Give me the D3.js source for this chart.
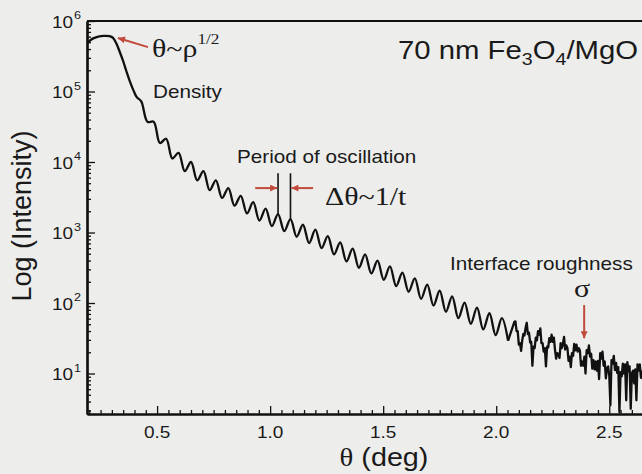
<!DOCTYPE html>
<html>
<head>
<meta charset="utf-8">
<script src="https://cdn.jsdelivr.net/npm/d3@7"></script>
<style>
  html, body { margin: 0; padding: 0; background: #ededeb; }
  svg { display: block; }
</style>
</head>
<body>
<div id="chart"></div>
<script>
// values: theta in degrees, log10 of intensity
const edgeTheta = [0.195, 0.215, 0.240, 0.265, 0.290, 0.305, 0.320, 0.335, 0.350, 0.365, 0.380, 0.395, 0.410];
const edgeLogI  = [5.70, 5.75, 5.78, 5.79, 5.785, 5.76, 5.68, 5.56, 5.43, 5.28, 5.14, 5.02, 4.92];

// fringe maxima
const peakTheta = [0.430, 0.485, 0.540, 0.595, 0.650, 0.705, 0.760, 0.815, 0.870, 0.925,
  0.980, 1.035, 1.090, 1.145, 1.200, 1.255, 1.310, 1.365, 1.420, 1.475,
  1.530, 1.585, 1.640, 1.695, 1.750, 1.805, 1.860, 1.915, 1.970, 2.025];
const peakLogI = [4.86, 4.57, 4.33, 4.13, 4.00, 3.87, 3.74, 3.63, 3.52, 3.43,
  3.34, 3.26, 3.19, 3.11, 3.04, 2.95, 2.86, 2.77, 2.69, 2.60,
  2.52, 2.43, 2.35, 2.26, 2.175, 2.095, 2.005, 1.935, 1.855, 1.785];

// fringe minima
const troughTheta = [0.4575, 0.5125, 0.5675, 0.6225, 0.6775, 0.7325, 0.7875, 0.8425, 0.8975, 0.9525,
  1.0075, 1.0625, 1.1175, 1.1725, 1.2275, 1.2825, 1.3375, 1.3925, 1.4475, 1.5025,
  1.5575, 1.6125, 1.6675, 1.7225, 1.7775, 1.8325, 1.8875, 1.9425, 1.9975, 2.0525];
const troughLogI = [4.57, 4.27, 4.05, 3.87, 3.74, 3.60, 3.49, 3.38, 3.27, 3.17,
  3.09, 3.02, 2.94, 2.85, 2.78, 2.69, 2.59, 2.50, 2.42, 2.33,
  2.24, 2.16, 2.06, 1.965, 1.875, 1.785, 1.705, 1.625, 1.545, 1.465];

// noisy tail, sampled every 0.005 deg from 2.080 deg
const tailStart = 2.080, tailStep = 0.005;
const tailLogI = [1.73, 1.74, 1.60, 1.60, 1.41, 1.43, 1.32, 1.47, 1.56, 1.54, 1.65,
  1.72, 1.56, 1.58, 1.44, 1.45, 1.11, 1.38, 1.36, 1.51, 1.47, 1.60,
  1.55, 1.64, 1.43, 1.43, 1.31, 1.36, 1.10, 1.38, 1.37, 1.50, 1.45,
  1.55, 1.45, 1.51, 1.34, 1.21, 1.29, 1.27, 1.22, 1.43, 1.36, 1.42,
  1.52, 1.34, 1.40, 1.36, 1.18, 1.24, 1.09, 1.29, 1.25, 1.42, 1.33,
  1.41, 1.31, 1.36, 1.33, 1.11, 1.17, 1.11, 1.24, 1.00, 1.33, 1.29,
  1.40, 1.24, 1.28, 1.07, 1.19, 1.06, 1.17, 1.04, 1.18, 0.92, 1.29,
  1.21, 1.31, 1.11, 1.17, 0.93, 1.08, 1.10, 0.97, 0.55, 1.19, 1.14,
  1.25, 1.05, 1.15, 1.01, 1.09, 0.45, 1.02, 0.96, 1.14, 1.00, 1.13,
  0.62, 1.16, 1.03, 1.10, 0.50, 1.00, 1.04, 0.86, 1.06, 0.62, 1.13,
  1.04, 1.13, 0.94, 1.03, 0.90];

const xTickValues = [0.5, 1.0, 1.5, 2.0, 2.5];
const xTickLabels = ["0.5", "1.0", "1.5", "2.0", "2.5"];
const yTickExponents = [1, 2, 3, 4, 5, 6];

const W = 642, H = 474;
const plot = {left: 87, top: 21, right: 659, bottom: 414};
const red = "#c24a3a";
const SX = 1.15;   // the scan is a little wider than tall
const sans = "'Liberation Sans', Arial, sans-serif";
const serif = "'Liberation Serif', 'Times New Roman', serif";

const x = d3.scaleLinear().domain([0.19, 2.72]).range([plot.left, plot.right]);
const y = d3.scaleLog().domain([2.665, 1e6]).range([plot.bottom, plot.top]);
const yl = v => y(Math.pow(10, v));

const svg = d3.select("#chart").append("svg").attr("width", W).attr("height", H);
svg.append("rect").attr("width", W).attr("height", H).attr("fill", "#ededeb");

const defs = svg.append("defs");
defs.append("clipPath").attr("id", "plot-clip").append("rect")
    .attr("x", plot.left).attr("y", plot.top)
    .attr("width", plot.right - plot.left).attr("height", plot.bottom - plot.top);
defs.append("marker").attr("id", "head")
    .attr("viewBox", "0 0 10 10").attr("refX", 10).attr("refY", 5)
    .attr("markerWidth", 9).attr("markerHeight", 7)
    .attr("markerUnits", "userSpaceOnUse").attr("orient", "auto")
  .append("path").attr("d", "M0,0L10,5L0,10z").attr("fill", red);

// smooth part: edge + fringes
let pts = [];
edgeTheta.forEach((t, i) => pts.push([t, edgeLogI[i]]));
peakTheta.forEach((t, i) => pts.push([t, peakLogI[i]]));
troughTheta.forEach((t, i) => pts.push([t, troughLogI[i]]));
pts.sort((a, b) => a[0] - b[0]);

// raw tail, joined to the last fringe minimum
const tail = [pts[pts.length - 1]].concat(tailLogI.map((v, i) => [tailStart + tailStep * i, v]));

const smooth = d3.line()
    .x(d => x(d[0]))
    .y(d => yl(d[1]))
    .curve(d3.curveCatmullRom.alpha(0.5));
const raw = d3.line()
    .x(d => x(d[0]))
    .y(d => yl(d[1]));

const curve = svg.append("g").attr("clip-path", "url(#plot-clip)");
curve.append("path").datum(pts).attr("d", smooth);
curve.append("path").datum(tail).attr("d", raw);
curve.selectAll("path")
    .attr("fill", "none")
    .attr("stroke", "#111")
    .attr("stroke-width", 2.3)
    .attr("stroke-linejoin", "round");

// axes
const minorX = d3.range(4, 55).map(d => d * 0.05).filter(v => v > 0.19 && Math.abs(v * 2 - Math.round(v * 2)) > 1e-6);
const gx = svg.append("g").attr("transform", `translate(0,${plot.bottom})`);
gx.call(d3.axisBottom(x).tickValues(minorX).tickSize(-4).tickSizeOuter(0).tickFormat(""));
gx.call(g => g.append("g").call(d3.axisBottom(x).tickValues(xTickValues).tickSize(-8).tickSizeOuter(0).tickFormat("")));

const minorY = y.ticks().filter(v => Math.abs(Math.log10(v) - Math.round(Math.log10(v))) > 1e-6);
const gy = svg.append("g").attr("transform", `translate(${plot.left},0)`);
gy.call(d3.axisLeft(y).tickValues(minorY).tickSize(-4).tickSizeOuter(0).tickFormat(""));
gy.call(g => g.append("g").call(d3.axisLeft(y).tickValues(yTickExponents.map(e => Math.pow(10, e))).tickSize(-8).tickSizeOuter(0).tickFormat("")));

svg.selectAll(".domain").attr("stroke", "#111").attr("stroke-width", 2.2);
svg.selectAll(".tick line").attr("stroke", "#111").attr("stroke-width", 1.3);

svg.append("line")
    .attr("x1", plot.left).attr("x2", plot.right)
    .attr("y1", plot.top).attr("y2", plot.top)
    .attr("stroke", "#111").attr("stroke-width", 2.2);

function txt(px, py, size, family, anchor) {
  return svg.append("text")
    .attr("transform", `translate(${px},${py}) scale(${SX},1)`)
    .attr("font-size", size)
    .attr("font-family", family)
    .attr("text-anchor", anchor || "start")
    .attr("fill", "#1a1a1a");
}

xTickValues.forEach((v, i) => {
  txt(x(v), 438, 16.5, sans, "middle").text(xTickLabels[i]);
});

yTickExponents.forEach(e => {
  const ty = y(Math.pow(10, e));
  txt(73, ty + 6.5, 16.5, sans, "end").text("10");
  txt(74, ty - 2, 11, sans, "start").text(e);
});

// axis titles
const xt = txt(384, 466, 25, sans, "middle");
xt.append("tspan").attr("font-family", serif).text("θ");
xt.append("tspan").text(" (deg)");

svg.append("text")
    .attr("transform", `translate(31,216) scale(1.05,1) rotate(-90)`)
    .attr("font-size", 27)
    .attr("font-family", sans)
    .attr("text-anchor", "middle")
    .attr("fill", "#1a1a1a")
    .text("Log (Intensity)");

// sample name
const title = txt(398, 59, 25.5, sans);
title.append("tspan").text("70 nm Fe");
title.append("tspan").attr("font-size", 17).attr("dy", 6).text("3");
title.append("tspan").attr("dy", -6).text("O");
title.append("tspan").attr("font-size", 17).attr("dy", 6).text("4");
title.append("tspan").attr("dy", -6).text("/MgO");

// annotations
function arrow(t1, l1, t2, l2) {
  svg.append("line")
    .attr("x1", x(t1)).attr("y1", yl(l1))
    .attr("x2", x(t2)).attr("y2", yl(l2))
    .attr("stroke", red).attr("stroke-width", 2)
    .attr("marker-end", "url(#head)");
}

const rho = txt(152, 57, 26, serif);
rho.append("tspan").text("θ~ρ");
rho.append("tspan").attr("font-size", 15).attr("dy", -13).text("1/2");
arrow(0.46, 5.63, 0.327, 5.76);
txt(153, 98, 18, sans).text("Density");

txt(237, 163, 18, sans).text("Period of oscillation");
[11, 12].forEach(i => {
  svg.append("line")
    .attr("x1", x(peakTheta[i])).attr("x2", x(peakTheta[i]))
    .attr("y1", yl(3.84)).attr("y2", yl(peakLogI[i]))
    .attr("stroke", "#111").attr("stroke-width", 1.6);
});
arrow(0.934, 3.63, peakTheta[11] - 0.004, 3.63);
arrow(1.19, 3.63, peakTheta[12] + 0.004, 3.63);
txt(325, 205, 26, serif).text("Δθ~1/t");

txt(450, 270, 18, sans).text("Interface roughness");
txt(574, 297, 26, serif).text("σ");
arrow(2.389, 1.97, 2.389, 1.50);
</script>
</body>
</html>
